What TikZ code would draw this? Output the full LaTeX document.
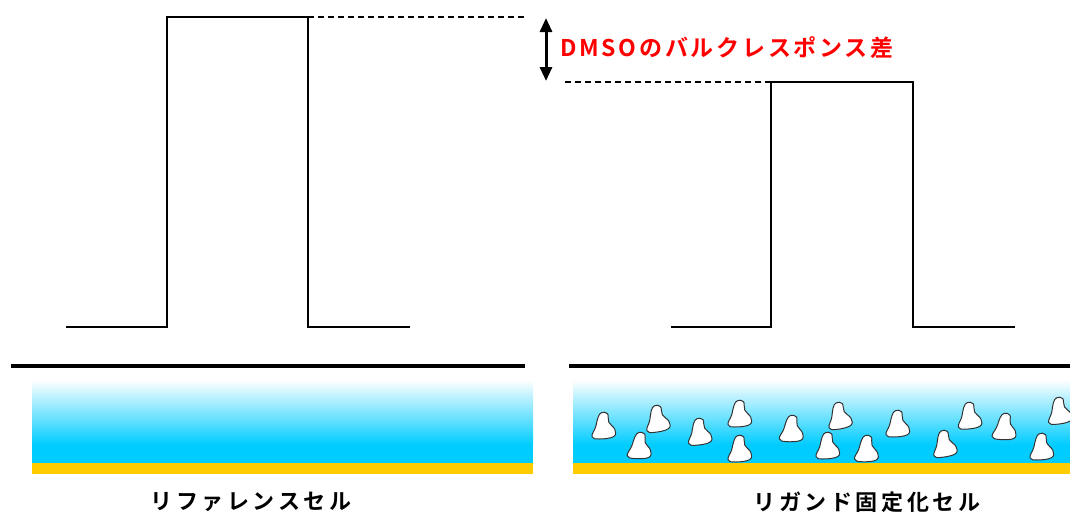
\documentclass[tikz,border=0pt]{standalone}
\usepackage{fontspec}
\newfontfamily\jpfont[LetterSpace=16]{Noto Sans CJK JP Bold}
\newfontfamily\jpfontred[LetterSpace=12]{Noto Sans CJK JP Bold}
\usetikzlibrary{arrows.meta}
\definecolor{liq}{RGB}{0,204,255}
\definecolor{gold}{RGB}{255,204,0}
\definecolor{labred}{RGB}{255,0,0}
\tikzset{
  signal/.style={line width=2pt, line join=miter},
  guide/.style={line width=1.5pt, dash pattern=on 6pt off 4pt},
  surface/.style={line width=4pt},
  diffarrow/.style={line width=3pt, arrows={Triangle[length=14pt,width=12pt]-Triangle[length=14pt,width=12pt]}},
  celllabel/.style={font=\jpfont\fontsize{22}{24}\selectfont, text=black, inner sep=0pt},
  blob/.style={fill=white, draw=black!80, line width=1pt},
}
% one immobilised ligand particle, centred at #1, rotated by #2
\newcommand{\ligandblob}[2]{%
  \draw[blob, shift={#1}, rotate=#2, scale=1.2]
    plot[smooth cycle, tension=0.7] coordinates
      {(-2,-12) (3,-11) (4,-4) (9,2) (8,8) (-4,10) (-10,8) (-7,0) (-5,-8)};}
\begin{document}
\begin{tikzpicture}[x=1pt, y=-1pt]
\useasboundingbox (0,0) rectangle (1070,514);

% ---- sensorgram traces ----
\coordinate (la) at (66,327);  \coordinate (lb) at (167,327);
\coordinate (lc) at (167,17);  \coordinate (ld) at (308,17);
\coordinate (le) at (308,327); \coordinate (lf) at (410,327);
\draw[signal] (la) -- (lb) -- (lc) -- (ld) -- (le) -- (lf);

\coordinate (ra) at (671,327); \coordinate (rb) at (771,327);
\coordinate (rc) at (771,82);  \coordinate (rd) at (913,82);
\coordinate (re) at (913,327); \coordinate (rf) at (1015,327);
\draw[signal] (ra) -- (rb) -- (rc) -- (rd) -- (re) -- (rf);

% ---- guides and difference arrow ----
\coordinate (topend) at (527,17);
\coordinate (lowstart) at (565,82);
\draw[guide] (ld) -- (topend);
\draw[guide] (lowstart) -- (rc);
\coordinate (arrtop) at (546,18);
\coordinate (arrbot) at (546,81);
\draw[diffarrow] (arrtop) -- (arrbot);
\node[anchor=west, inner sep=0pt, text=labred, font=\jpfontred\fontsize{23}{24}\selectfont] (difflabel) at (560,48) {DMSOのバルクレスポンス差};

% ---- sensor surfaces ----
\coordinate (lsa) at (11,365.5);  \coordinate (lsb) at (525,365.5);
\coordinate (rsa) at (569,365.5); \coordinate (rsb) at (1070,365.5);
\draw[surface] (lsa) -- (lsb);
\draw[surface] (rsa) -- (rsb);

% reference cell flow channel
\shade[top color=white, bottom color=liq] (32,380) rectangle (533,445);
\fill[liq] (32,444.5) rectangle (533,463);
\fill[gold] (32,463) rectangle (533,474);

% ligand cell flow channel
\shade[top color=white, bottom color=liq] (573,380) rectangle (1070,445);
\fill[liq] (573,444.5) rectangle (1070,463);
\fill[gold] (573,463) rectangle (1070,474);

% immobilised ligand particles
\ligandblob{(604,427)}{0}
\ligandblob{(658,420)}{5}
\ligandblob{(640,447)}{-5}
\ligandblob{(700,433)}{3}
\ligandblob{(740,415)}{0}
\ligandblob{(740,450)}{0}
\ligandblob{(792,430)}{-4}
\ligandblob{(840,417)}{6}
\ligandblob{(828,447)}{0}
\ligandblob{(867,450)}{-3}
\ligandblob{(898,425)}{0}
\ligandblob{(945,445)}{5}
\ligandblob{(970,417)}{2}
\ligandblob{(1005,428)}{-6}
\ligandblob{(1042,448)}{0}
\ligandblob{(1060,412)}{4}

% ---- cell names ----
\node[celllabel] (refname) at (251,502) {リファレンスセル};
\node[celllabel] (ligname) at (867,502) {リガンド固定化セル};
\end{tikzpicture}
\end{document}
